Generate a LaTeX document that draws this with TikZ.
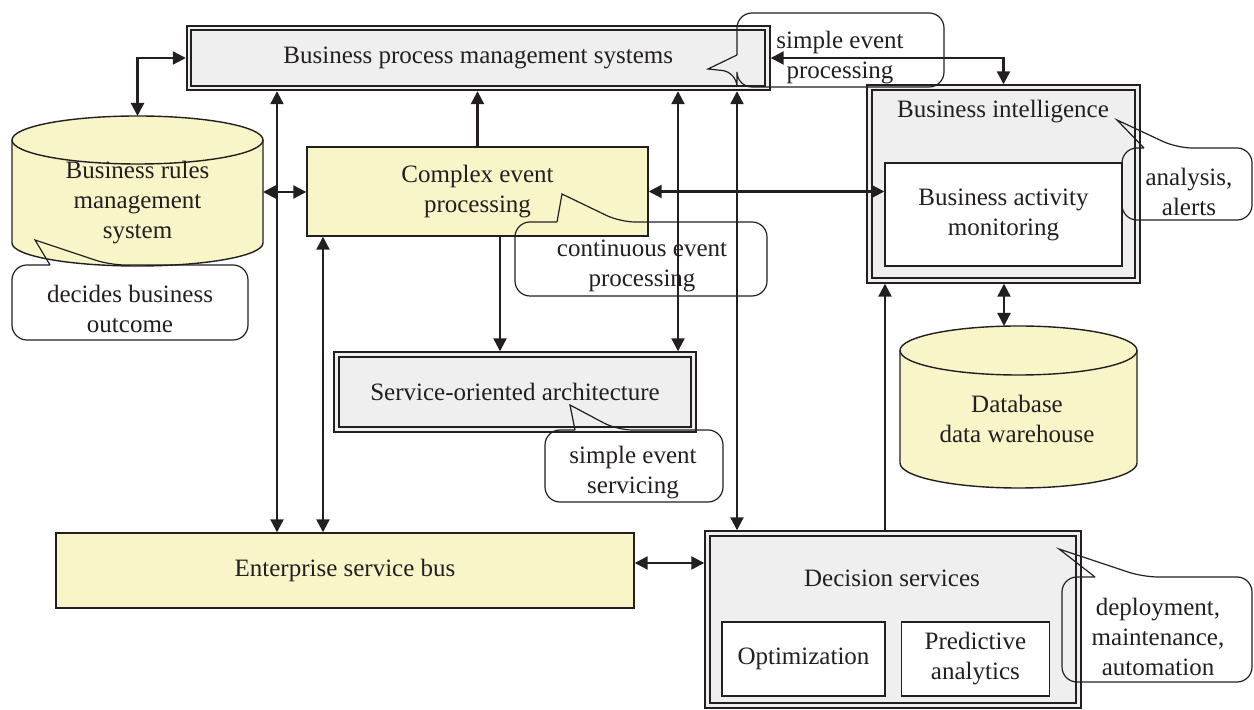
\documentclass[tikz,border=0pt]{standalone}
\usepackage{fontspec}
\setmainfont{Liberation Serif}
\usetikzlibrary{arrows.meta,positioning}
\definecolor{ink}{HTML}{231F20}
\definecolor{pale}{HTML}{F8F6C9}
\definecolor{boxgray}{HTML}{EFEFEF}

\begin{document}
\begin{tikzpicture}[x=0.5pt, y=-0.5pt,
    every node/.style={font=\fontsize{12.5}{15}\selectfont, align=center, text=ink},
    box/.style={draw=ink, line width=0.7pt, fill=pale},
    dbox/.style={draw=ink, line width=0.9pt, double=boxgray, double distance=1.45pt,
                 fill=boxgray, outer sep=1.6pt},
    inbox/.style={draw=ink, line width=0.7pt, fill=white},
    cyl/.style={draw=ink, line width=0.7pt, fill=pale},
    bubble/.style={draw=ink, line width=0.6pt, rounded corners=7.5pt},
    link/.style={draw=ink, line width=1.1pt},
    fwd/.style={link, -{Triangle[length=6.5pt,width=6.5pt]}},
    bidi/.style={link, {Triangle[length=6.5pt,width=6.5pt]}-{Triangle[length=6.5pt,width=6.5pt]}}]
\useasboundingbox (0,0) rectangle (1254,710);

% main boxes
\node[dbox, minimum width=289.25pt, minimum height=30pt] (bpm) at (478.25,58) {Business process management systems};
\node[box, minimum width=170.5pt, minimum height=44.5pt] (cep) at (477.5,191.5) {Complex event\\processing};
\node[dbox, minimum width=178.5pt, minimum height=37.5pt] (soa) at (515,392) {Service-oriented architecture};
\node[box, minimum width=289pt, minimum height=37.5pt] (esb) at (345,570.5) {Enterprise service bus};
\node[dbox, minimum width=134pt, minimum height=96.5pt] (bi) at (1003.5,184) {};
\node (bititle) at (1003,112) {Business intelligence};
\node[inbox, minimum width=118.5pt, minimum height=51.5pt] (bam) at (1003.5,214.5) {Business activity\\monitoring};
\node[dbox, minimum width=185.5pt, minimum height=86pt] (ds) at (893,619.5) {};
\node (dstitle) at (892,578) {Decision services};
\node[inbox, minimum width=81.5pt, minimum height=37pt] (opt) at (803.5,659) {Optimization};
\node[inbox, minimum width=74pt, minimum height=37pt, right=7.5pt of opt] (pred) {Predictive\\analytics};

% databases
\draw[cyl] (12,140) -- (12,243) arc[start angle=180, end angle=360, x radius=62.75pt, y radius=11.5pt]
  -- (263,140) arc[start angle=0, end angle=180, x radius=62.75pt, y radius=12pt] -- cycle;
\draw[cyl, fill=none] (12,140) arc[start angle=180, end angle=360, x radius=62.75pt, y radius=12pt];
\node (brms) at (137.5,203) {Business rules\\management\\system};
\draw[cyl] (900,350.5) -- (900,463) arc[start angle=180, end angle=360, x radius=59.25pt, y radius=12.5pt]
  -- (1137,350.5) arc[start angle=0, end angle=180, x radius=59.25pt, y radius=12.25pt] -- cycle;
\draw[cyl, fill=none] (900,350.5) arc[start angle=180, end angle=360, x radius=59.25pt, y radius=12.25pt];
\node (db) at (1017,419) {Database\\data warehouse};
\coordinate (brmstop) at (137.5,116);
\coordinate (brmsside) at (263,192);
\coordinate (dbtop) at (1004,326);

% connectors
\draw[bidi] (bpm.west) -| (brmstop);
\draw[bidi] (bpm.east) -| (bi.north);
\draw[bidi] (brmsside) -- (brmsside -| cep.west);
\draw[fwd] (cep.north) -- (cep.north |- bpm.south);
\draw[fwd] ([xshift=11.25pt]cep.south) -- ([xshift=11.25pt]cep.south |- soa.north);
\draw[bidi] (bpm.south -| 277,0) -- (esb.north -| 277,0);
\draw[bidi] (cep.south -| 323,0) -- (esb.north -| 323,0);
\draw[bidi] (bpm.south -| 678,0) -- (soa.north -| 678,0);
\draw[bidi] (bpm.south -| 737,0) -- (ds.north -| 737,0);
\draw[bidi] (cep.east) -- (cep.east -| bam.west);
\draw[fwd] (ds.north -| 885,0) -- (bi.south -| 885,0);
\draw[bidi] (bi.south -| dbtop) -- (dbtop);
\draw[bidi] (esb.east |- 0,563) -- (ds.west |- 0,563);

% call-outs
\draw[bubble] (737,55) -- (737,13) -- (944,13) -- (944,87) -- (737,87) -- (737,72) [sharp corners] -- (708,69) -- (737,55);
\node (sepnote) at (840,57.5) {simple event\\processing};
\draw[bubble] (1144,148) -- (1122,148) -- (1122,220) -- (1252,220) -- (1252,148) -- (1177,148) [sharp corners] -- (1117,120) -- (1144,148);
\node (binote) at (1189,192) {analysis,\\alerts};
\draw[bubble] (557,222) -- (515,222) -- (515,296) -- (767,296) -- (767,222) -- (620,222) [sharp corners] -- (562,194) -- (557,222);
\node (cepnote) at (642,265.5) {continuous event\\processing};
\draw[bubble] (575,430) -- (545,430) -- (545,502) -- (723,502) -- (723,430) -- (617,430) [sharp corners] -- (570,405) -- (575,430);
\node (soanote) at (633,473) {simple event\\servicing};
\draw[bubble] (50,265) -- (12,265) -- (12,340) -- (248,340) -- (248,265) -- (110,265) [sharp corners] -- (35,240) -- (50,265);
\node (brmsnote) at (130,309) {decides business\\outcome};
\draw[bubble] (1095,577) -- (1062,577) -- (1062,682) -- (1252,682) -- (1252,577) -- (1143,577) [sharp corners] -- (1059,549) -- (1095,577);
\node (dsnote) at (1158,637) {deployment,\\maintenance,\\automation};
\end{tikzpicture}
\end{document}
